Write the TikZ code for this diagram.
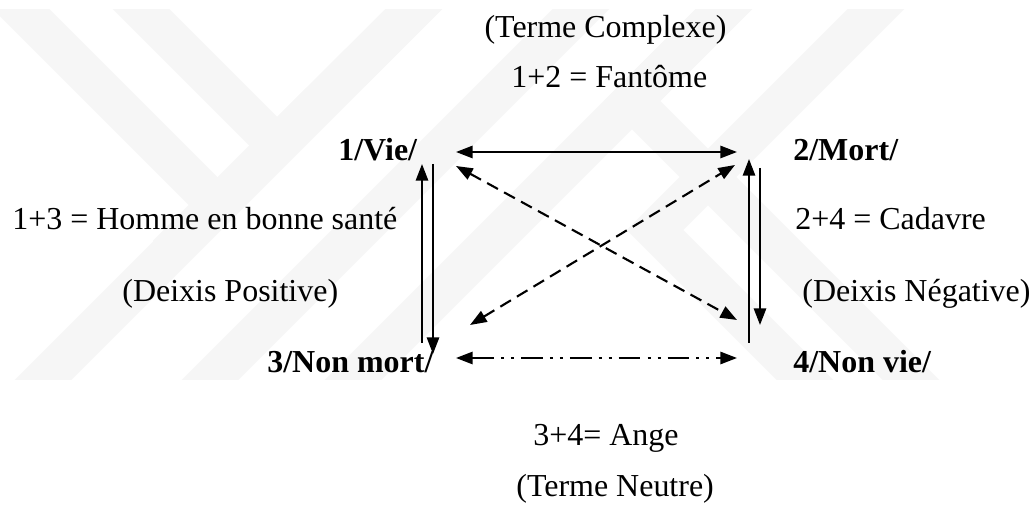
\documentclass[tikz,border=0pt]{standalone}
\usepackage{fontspec}
\setmainfont{Liberation Serif}
\usetikzlibrary{arrows.meta}

\tikzset{
  lbl/.style={font=\fontsize{18.2}{22}\selectfont, inner sep=0pt},
  corner/.style={font=\fontsize{18.2}{22}\selectfont\bfseries, inner sep=0pt},
  arr/.style={line width=1.2pt, -{Triangle[length=9.5pt,width=7pt]}},
  darr/.style={arr, {Triangle[length=9.5pt,width=7pt]}-{Triangle[length=9.5pt,width=7pt]}},
  wmark/.style={draw=gray!7, line width=0.8cm, line join=miter}
}

\begin{document}
\begin{tikzpicture}[x=0.02cm,y=-0.02cm]
  \useasboundingbox (0,0) rectangle (1035,506);

  % watermark in the background
  \begin{scope}
    \clip (0,10) rectangle (1035,380);
    \draw[wmark] (433,-10) -- (23,400);
    \draw[wmark] (600,-10) -- (190,400);
    \draw[wmark] (743,-10) -- (333,400);
    \draw[wmark] (2,-10) -- (217,205) -- (167,255);
    \draw[wmark] (122,-10) -- (277,145) -- (433,-10);
    \draw[wmark] (895,-10) -- (655,230) -- (825,400);
    \draw[wmark] (743,-10) -- (632,101) -- (931,400);
  \end{scope}

  % the texts
  \node[lbl, anchor=base] (tc) at (605.5,38) {(Terme Complexe)};
  \node[lbl, anchor=base west] (f12) at (511,88) {1+2 = Fantôme};
  \node[corner, anchor=base west] (v1) at (338,161) {1/Vie/};
  \node[corner, anchor=base west] (v2) at (793,161) {2/Mort/};
  \node[lbl, anchor=base west] (h13) at (12,230) {1+3 = Homme en bonne santé};
  \node[lbl, anchor=base west] (c24) at (795,230) {2+4 = Cadavre};
  \node[lbl, anchor=base west] (dp) at (122,302) {(Deixis Positive)};
  \node[lbl, anchor=base west] (dn) at (802,302) {(Deixis Négative)};
  \node[corner, anchor=base west] (v3) at (267,373) {3/Non mort/};
  \node[corner, anchor=base west] (v4) at (793,373) {4/Non vie/};
  \node[lbl, anchor=base west] (a34) at (533,446) {3+4= Ange};
  \node[lbl, anchor=base west] (tn) at (516,497) {(Terme Neutre)};

  % arrow ends
  \coordinate (t1) at (456,152);
  \coordinate (t2) at (737,152);
  \coordinate (b1) at (456,358);
  \coordinate (b2) at (737,358);
  \coordinate (l1a) at (422,343);
  \coordinate (l1b) at (422,164);
  \coordinate (l2a) at (433,164);
  \coordinate (l2b) at (433,354);
  \coordinate (r1a) at (749,343);
  \coordinate (r1b) at (749,159);
  \coordinate (r2a) at (760,168);
  \coordinate (r2b) at (760,325);
  \coordinate (d1a) at (456,166);
  \coordinate (d1b) at (737,320);
  \coordinate (d2a) at (470,325);
  \coordinate (d2b) at (735,165);

  \draw[darr] (t1) -- (t2);
  \draw[darr, dash pattern=on 12.4pt off 4pt on 1.7pt off 4pt on 1.7pt off 4pt] (b1) -- (b2);
  \draw[arr] (l1a) -- (l1b);
  \draw[arr] (l2a) -- (l2b);
  \draw[arr] (r1a) -- (r1b);
  \draw[arr] (r2a) -- (r2b);
  \draw[darr, dash pattern=on 7pt off 4pt] (d1a) -- (d1b);
  \draw[darr, dash pattern=on 7pt off 4pt] (d2a) -- (d2b);
\end{tikzpicture}
\end{document}
